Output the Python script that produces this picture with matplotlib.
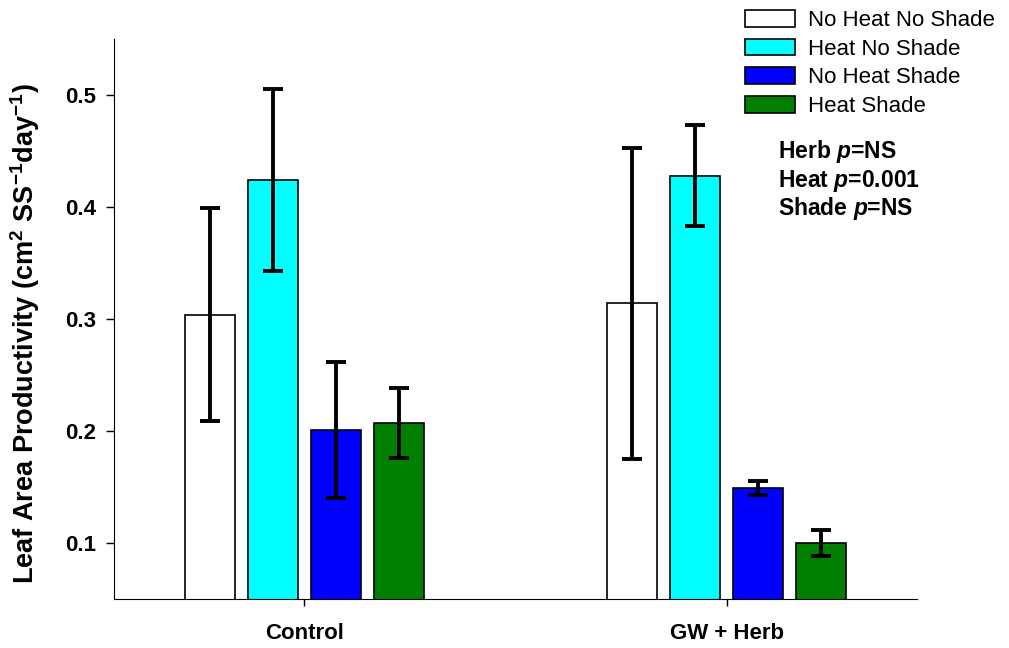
import numpy as np
import matplotlib
matplotlib.use("Agg")
import matplotlib.pyplot as plt

# data
groups = ["Control", "GW + Herb"]
treatments = ["No Heat No Shade", "Heat No Shade", "No Heat Shade", "Heat Shade"]
colors = ["white", "#00FFFF", "#0000FF", "#007F00"]

means = [
    [0.304, 0.314],   # No Heat No Shade
    [0.424, 0.428],   # Heat No Shade
    [0.201, 0.149],   # No Heat Shade
    [0.207, 0.100],   # Heat Shade
]
errors = [
    [0.095, 0.139],
    [0.081, 0.045],
    [0.061, 0.006],
    [0.031, 0.012],
]
stats_lines = [r"Herb $p$=NS", r"Heat $p$=0.001", r"Shade $p$=NS"]

plt.rcParams["font.family"] = ["Liberation Sans", "DejaVu Sans"]
plt.rcParams["mathtext.fontset"] = "custom"
plt.rcParams["mathtext.rm"] = "Liberation Sans:bold"
plt.rcParams["mathtext.it"] = "Liberation Sans:italic:bold"
plt.rcParams["mathtext.bf"] = "Liberation Sans:bold"

fig = plt.figure(figsize=(10.09, 6.48), dpi=100)
ax = fig.add_axes([114 / 1009, 1 - 599 / 648, (917 - 114) / 1009, (599 - 39) / 648])

x = np.arange(len(groups))
width = 0.1185
step = 0.149
for i, (name, col) in enumerate(zip(treatments, colors)):
    pos = x + (i - 1.5) * step
    ax.bar(pos, means[i], width, color=col, edgecolor="black", linewidth=1.2,
           label=name, zorder=2)
    ax.errorbar(pos, means[i], yerr=errors[i], fmt="none", ecolor="black",
                elinewidth=2.8, capsize=7, capthick=2.8, zorder=3)

ax.set_xlim(-0.451, 1.451)
ax.set_ylim(0.05, 0.55)
ax.set_yticks([0.1, 0.2, 0.3, 0.4, 0.5])
ax.set_yticklabels(["0.1", "0.2", "0.3", "0.4", "0.5"])
ax.set_xticks(x)
ax.set_xticklabels(groups)
for lab in ax.get_xticklabels() + ax.get_yticklabels():
    lab.set_fontweight("bold")
    lab.set_fontsize(16)
ax.tick_params(axis="y", direction="out", length=6, width=1, pad=7)
ax.tick_params(axis="x", direction="out", length=5, width=1, pad=12)
ax.spines["top"].set_visible(False)
ax.spines["right"].set_visible(False)

ax.set_ylabel(r"Leaf Area Productivity (cm$^{2}$ SS$^{-1}$day$^{-1}$)",
              fontsize=19.5, fontweight="bold")
ax.yaxis.set_label_coords(-0.0897, 0.473)

fig.legend(loc="upper left", bbox_to_anchor=(745 / 1009, 1 - 10 / 648),
           frameon=False, fontsize=16, handlelength=2.25, handleheight=0.78,
           handletextpad=0.6, labelspacing=0.34, borderpad=0, borderaxespad=0)

for k, line in enumerate(stats_lines):
    fig.text(778 / 1009, 1 - (152 + 28.5 * k) / 648, line, fontsize=16.5,
             fontweight="bold", va="center", ha="left")

fig.savefig("out.png", dpi=100)
